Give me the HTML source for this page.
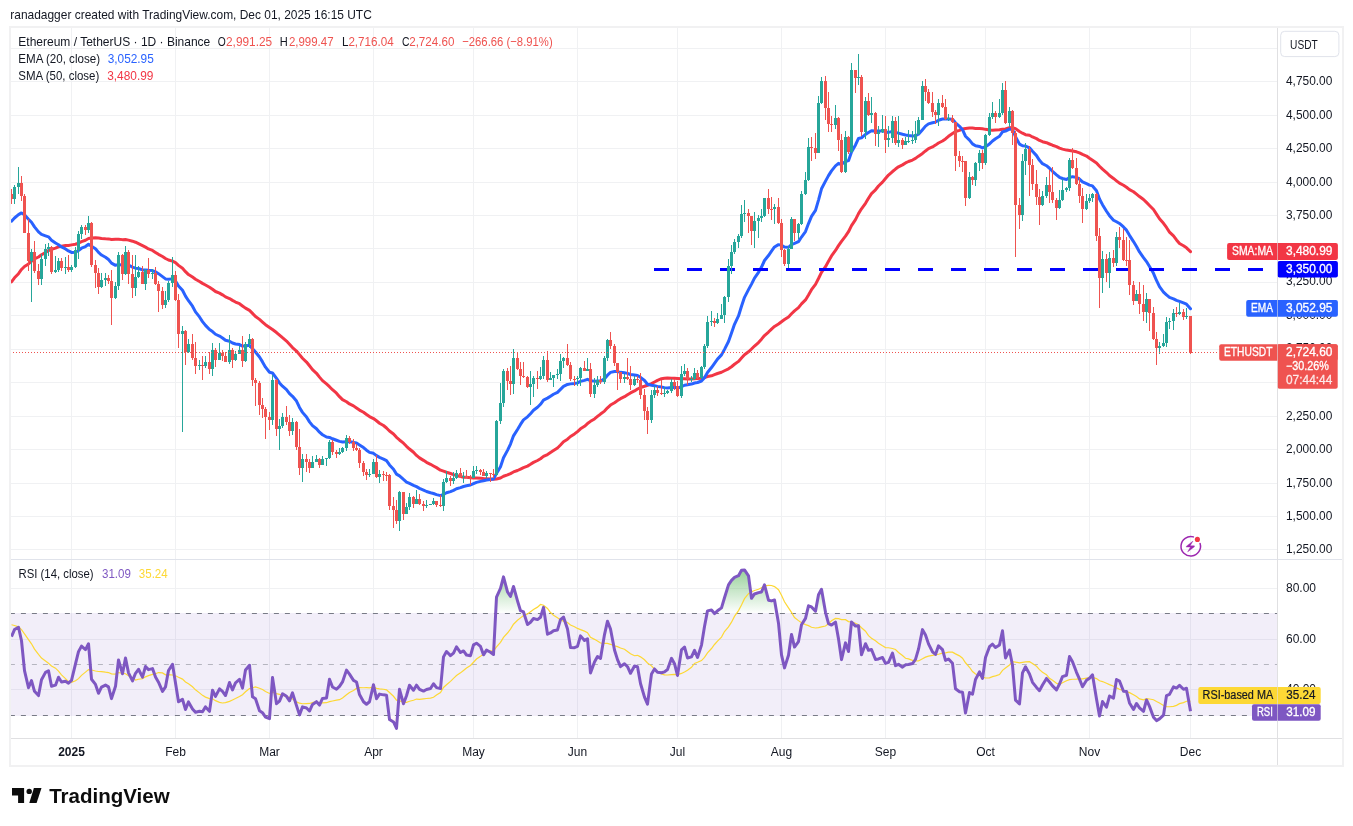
<!DOCTYPE html>
<html><head><meta charset="utf-8"><title>ETHUSDT chart</title>
<style>
html,body{margin:0;padding:0;background:#fff;}
body{width:1353px;height:826px;overflow:hidden;}
svg{display:block;font-family:"Liberation Sans", Arial, sans-serif;will-change:transform;}
</style></head><body>
<svg width="1353" height="826" viewBox="0 0 1353 826">
<rect x="0" y="0" width="1353" height="826" fill="#ffffff"/>

<text x="10.3" y="18.6" font-size="13" fill="#131722" textLength="361.5" lengthAdjust="spacingAndGlyphs">ranadagger created with TradingView.com, Dec 01, 2025 16:15 UTC</text>
<path d="M71.5 27V738 M175.5 27V738 M269.5 27V738 M373.5 27V738 M473.5 27V738 M577.5 27V738 M677.5 27V738 M781.5 27V738 M885.5 27V738 M985.5 27V738 M1089.5 27V738 M1190.5 27V738 M10 549.5H1277 M10 516.5H1277 M10 483.5H1277 M10 449.5H1277 M10 416.5H1277 M10 382.5H1277 M10 349.5H1277 M10 315.5H1277 M10 282.5H1277 M10 248.5H1277 M10 215.5H1277 M10 182.5H1277 M10 148.5H1277 M10 115.5H1277 M10 81.5H1277 M10 48.5H1277 M10 588.5H1277 M10 639.5H1277 M10 689.5H1277" stroke="#f0f1f3" stroke-width="1" fill="none"/>
<rect x="10" y="613" width="1267" height="103" fill="#7e57c2" fill-opacity="0.1"/>
<g clip-path="url(#mainclip)">
<defs><clipPath id="mainclip"><rect x="10" y="27" width="1267" height="532"/></clipPath><clipPath id="rsiclip"><rect x="10" y="560" width="1267" height="178"/></clipPath></defs>
<polyline points="11.5,281.86 14.5,277.83 18.5,273.68 21.5,269.47 24.5,266.47 28.5,263.90 31.5,261.23 34.5,258.93 38.5,256.98 41.5,254.81 45.5,252.58 48.5,250.55 51.5,249.31 55.5,248.06 58.5,246.88 61.5,246.19 65.5,245.56 68.5,245.46 71.5,244.86 75.5,244.24 78.5,243.08 81.5,241.67 85.5,240.23 88.5,238.52 91.5,237.95 95.5,237.67 98.5,237.94 101.5,238.53 105.5,238.78 108.5,238.89 111.5,239.51 115.5,239.28 118.5,239.16 122.5,239.63 125.5,239.56 128.5,240.13 132.5,241.18 135.5,242.21 138.5,243.65 142.5,245.60 145.5,247.12 148.5,248.95 152.5,250.43 155.5,252.39 158.5,254.37 162.5,256.53 165.5,258.49 168.5,260.01 172.5,261.15 175.5,262.67 178.5,265.37 182.5,268.25 185.5,271.63 188.5,274.58 192.5,277.10 195.5,279.20 199.5,281.46 202.5,283.36 205.5,285.01 209.5,287.22 212.5,289.25 215.5,291.51 219.5,293.13 222.5,294.85 225.5,296.87 229.5,298.52 232.5,300.37 235.5,302.05 239.5,303.71 242.5,305.93 245.5,308.13 249.5,310.38 252.5,313.37 255.5,316.58 259.5,319.38 262.5,322.10 265.5,324.71 269.5,327.51 272.5,329.55 276.5,332.53 279.5,335.09 282.5,337.72 286.5,341.06 289.5,344.19 292.5,347.59 296.5,351.04 299.5,354.64 302.5,358.28 306.5,362.07 309.5,365.75 312.5,369.59 316.5,373.29 319.5,377.13 322.5,380.62 326.5,383.96 329.5,386.70 332.5,389.72 336.5,393.16 339.5,396.69 342.5,399.65 346.5,401.73 349.5,403.95 353.5,405.87 356.5,407.99 359.5,410.09 363.5,412.21 366.5,414.42 369.5,416.57 373.5,418.59 376.5,420.75 379.5,423.23 383.5,425.53 386.5,427.98 389.5,430.97 393.5,433.93 396.5,437.34 399.5,439.99 403.5,443.19 406.5,446.31 409.5,449.04 413.5,452.23 416.5,455.42 419.5,457.90 423.5,460.36 426.5,462.36 430.5,464.28 433.5,465.96 436.5,467.64 440.5,470.15 443.5,471.21 446.5,472.24 450.5,473.50 453.5,474.63 456.5,475.48 460.5,476.57 463.5,477.16 466.5,477.36 470.5,477.75 473.5,477.94 476.5,477.99 480.5,478.19 483.5,478.53 486.5,478.69 490.5,479.00 493.5,479.33 496.5,478.92 500.5,477.95 503.5,476.28 507.5,474.85 510.5,473.56 513.5,471.96 517.5,470.49 520.5,469.06 523.5,467.61 527.5,466.09 530.5,464.32 533.5,462.38 537.5,460.49 540.5,458.76 543.5,456.41 547.5,454.52 550.5,452.58 553.5,450.58 557.5,447.95 560.5,444.99 563.5,441.73 567.5,439.19 570.5,436.49 574.5,433.94 577.5,431.56 580.5,428.84 584.5,426.27 587.5,423.57 590.5,421.33 594.5,418.92 597.5,416.44 600.5,414.05 604.5,411.11 607.5,407.80 610.5,405.07 614.5,402.79 617.5,400.62 620.5,398.64 624.5,396.70 627.5,394.75 630.5,392.94 634.5,390.97 637.5,389.00 640.5,387.48 644.5,386.29 647.5,385.25 651.5,383.63 654.5,381.97 657.5,380.35 661.5,378.73 664.5,378.16 667.5,377.92 671.5,378.15 674.5,378.26 677.5,378.50 681.5,378.81 684.5,378.85 687.5,378.91 691.5,378.93 694.5,378.64 697.5,378.53 701.5,378.30 704.5,377.65 707.5,376.59 711.5,375.80 714.5,374.67 717.5,373.49 721.5,372.27 724.5,370.73 728.5,368.83 731.5,366.72 734.5,364.26 738.5,361.40 741.5,358.11 744.5,354.81 748.5,351.78 751.5,349.00 754.5,346.04 758.5,342.52 761.5,339.14 764.5,335.51 768.5,332.04 771.5,329.07 774.5,326.41 778.5,323.95 781.5,321.69 784.5,319.53 788.5,316.93 791.5,313.78 794.5,310.85 798.5,307.63 801.5,303.92 805.5,299.91 808.5,294.95 811.5,289.71 815.5,284.36 818.5,278.53 821.5,272.36 825.5,266.67 828.5,261.27 831.5,255.91 835.5,250.45 838.5,245.61 841.5,241.33 845.5,236.15 848.5,231.71 851.5,225.70 855.5,219.66 858.5,213.63 861.5,208.81 865.5,203.28 868.5,198.24 871.5,193.58 875.5,189.80 878.5,186.03 882.5,182.15 885.5,178.57 888.5,175.05 892.5,171.53 895.5,169.05 898.5,166.81 902.5,164.86 905.5,162.97 908.5,161.51 912.5,160.04 915.5,158.40 918.5,156.17 922.5,153.47 925.5,150.96 928.5,148.68 932.5,146.96 935.5,145.10 938.5,142.98 942.5,140.98 945.5,138.91 948.5,136.26 952.5,133.42 955.5,131.55 959.5,130.39 962.5,128.96 965.5,128.44 969.5,128.10 972.5,128.10 975.5,128.41 979.5,128.51 982.5,128.71 985.5,129.35 989.5,130.07 992.5,130.16 995.5,130.03 999.5,129.79 1002.5,129.22 1005.5,128.89 1009.5,127.67 1012.5,127.57 1015.5,128.64 1019.5,131.54 1022.5,133.21 1025.5,134.65 1029.5,135.31 1032.5,136.97 1036.5,138.61 1039.5,140.45 1042.5,141.69 1046.5,142.74 1049.5,144.00 1052.5,145.21 1056.5,146.61 1059.5,148.19 1062.5,149.14 1066.5,150.10 1069.5,150.40 1072.5,150.93 1076.5,151.80 1079.5,152.91 1082.5,154.41 1086.5,156.03 1089.5,158.26 1092.5,160.29 1096.5,162.95 1099.5,166.26 1102.5,169.13 1106.5,172.54 1109.5,175.56 1113.5,178.43 1116.5,180.81 1119.5,183.16 1123.5,185.23 1126.5,187.23 1129.5,189.70 1133.5,191.74 1136.5,194.08 1139.5,196.56 1143.5,199.54 1146.5,202.45 1149.5,205.45 1153.5,209.53 1156.5,214.14 1159.5,218.81 1163.5,223.32 1166.5,227.49 1169.5,232.11 1173.5,235.90 1176.5,239.97 1179.5,243.56 1183.5,245.80 1186.5,247.82 1190.5,251.64" fill="none" stroke="#f23645" stroke-width="3" stroke-linejoin="round" stroke-linecap="round"/>
<polyline points="11.5,221.21 14.5,217.98 18.5,214.67 21.5,212.92 24.5,214.80 28.5,219.18 31.5,222.27 34.5,226.89 38.5,231.85 41.5,234.43 45.5,235.82 48.5,236.86 51.5,240.18 55.5,243.06 58.5,244.75 61.5,246.96 65.5,248.89 68.5,250.88 71.5,252.43 75.5,252.16 78.5,250.47 81.5,248.24 85.5,246.55 88.5,244.31 91.5,246.26 95.5,248.78 98.5,252.40 101.5,255.05 105.5,257.26 108.5,259.47 111.5,263.13 115.5,265.31 118.5,264.34 122.5,265.28 125.5,264.04 128.5,265.01 132.5,267.16 135.5,268.14 138.5,268.49 142.5,269.94 145.5,269.90 148.5,270.29 152.5,270.53 155.5,271.81 158.5,273.67 162.5,276.64 165.5,278.90 168.5,279.25 172.5,278.88 175.5,280.93 178.5,285.98 182.5,290.29 185.5,296.18 188.5,300.73 192.5,306.23 195.5,311.90 199.5,316.94 202.5,321.59 205.5,325.39 209.5,329.57 212.5,331.56 215.5,334.25 219.5,336.02 222.5,337.94 225.5,340.22 229.5,341.19 232.5,342.97 235.5,343.98 239.5,344.59 242.5,346.12 245.5,345.93 249.5,345.31 252.5,348.64 255.5,351.96 259.5,356.98 262.5,361.90 265.5,367.18 269.5,372.25 272.5,373.02 276.5,378.37 279.5,382.92 282.5,386.21 286.5,389.63 289.5,393.55 292.5,396.28 296.5,401.07 299.5,407.42 302.5,412.35 306.5,417.03 309.5,421.87 312.5,425.64 316.5,428.80 319.5,432.22 322.5,434.75 326.5,437.00 329.5,437.43 332.5,438.78 336.5,440.27 339.5,441.40 342.5,442.06 346.5,441.68 349.5,441.71 353.5,442.34 356.5,443.06 359.5,444.99 363.5,447.55 366.5,450.18 369.5,452.40 373.5,453.33 376.5,455.63 379.5,457.40 383.5,459.09 386.5,460.64 389.5,464.94 393.5,469.20 396.5,474.11 399.5,475.85 403.5,479.45 406.5,482.03 409.5,483.45 413.5,485.36 416.5,486.67 419.5,488.34 423.5,490.05 426.5,491.49 430.5,492.72 433.5,493.52 436.5,494.59 440.5,495.64 443.5,494.38 446.5,492.77 450.5,491.61 453.5,490.36 456.5,488.74 460.5,487.61 463.5,486.48 466.5,485.68 470.5,485.00 473.5,483.69 476.5,482.39 480.5,481.36 483.5,480.82 486.5,480.07 490.5,479.49 493.5,479.05 496.5,473.53 500.5,466.83 503.5,457.68 507.5,450.35 510.5,444.02 513.5,435.83 517.5,429.44 520.5,424.40 523.5,419.93 527.5,416.81 530.5,413.67 533.5,410.28 537.5,407.28 540.5,404.26 543.5,400.08 547.5,398.14 550.5,396.23 553.5,394.24 557.5,392.35 560.5,389.39 563.5,386.40 567.5,384.41 570.5,383.87 574.5,383.40 577.5,382.86 580.5,381.41 584.5,380.37 587.5,379.30 590.5,380.72 594.5,381.13 597.5,381.05 600.5,381.10 604.5,378.90 607.5,375.19 610.5,372.40 614.5,371.53 617.5,371.61 620.5,372.34 624.5,372.74 627.5,373.36 630.5,374.51 634.5,374.97 637.5,375.45 640.5,377.34 644.5,380.51 647.5,384.24 651.5,385.22 654.5,385.65 657.5,386.37 661.5,387.07 664.5,387.62 667.5,387.96 671.5,387.40 674.5,387.29 677.5,388.11 681.5,386.74 684.5,385.22 687.5,384.67 691.5,384.08 694.5,383.00 697.5,382.52 701.5,381.03 704.5,377.71 707.5,372.43 711.5,367.53 714.5,363.32 717.5,359.10 721.5,354.86 724.5,349.37 728.5,341.46 731.5,332.98 734.5,324.34 738.5,315.94 741.5,306.24 744.5,297.34 748.5,289.63 751.5,284.09 754.5,278.09 758.5,272.37 761.5,267.04 764.5,260.50 768.5,255.55 771.5,251.12 774.5,246.95 778.5,244.64 781.5,245.18 784.5,247.01 788.5,247.24 791.5,244.53 794.5,243.43 798.5,241.61 801.5,237.04 805.5,231.59 808.5,223.55 811.5,216.39 815.5,210.32 818.5,200.10 821.5,188.78 825.5,181.13 828.5,175.64 831.5,170.86 835.5,165.83 838.5,163.36 841.5,164.19 845.5,161.61 848.5,160.67 851.5,152.06 855.5,144.97 858.5,138.49 861.5,137.84 865.5,134.35 868.5,132.51 871.5,130.65 875.5,130.93 878.5,131.06 882.5,130.90 885.5,131.78 888.5,132.41 892.5,131.34 895.5,132.41 898.5,133.16 902.5,134.29 905.5,134.97 908.5,135.53 912.5,135.92 915.5,135.75 918.5,134.24 922.5,129.68 925.5,126.13 928.5,123.89 932.5,122.80 935.5,122.09 938.5,120.27 942.5,119.03 945.5,119.06 948.5,118.93 952.5,119.27 955.5,122.77 959.5,126.37 962.5,129.71 965.5,136.25 969.5,140.10 972.5,143.88 975.5,145.68 979.5,146.41 982.5,147.97 985.5,146.70 989.5,143.91 992.5,140.98 995.5,138.70 999.5,136.26 1002.5,131.85 1005.5,131.03 1009.5,129.09 1012.5,129.42 1015.5,136.62 1019.5,144.11 1022.5,145.75 1025.5,146.02 1029.5,147.80 1032.5,151.27 1036.5,155.62 1039.5,160.32 1042.5,163.70 1046.5,165.72 1049.5,168.26 1052.5,171.31 1056.5,174.85 1059.5,177.28 1062.5,178.49 1066.5,179.42 1069.5,177.58 1072.5,176.65 1076.5,177.37 1079.5,179.10 1082.5,181.94 1086.5,183.73 1089.5,185.09 1092.5,185.93 1096.5,190.67 1099.5,198.96 1102.5,204.67 1106.5,211.22 1109.5,215.70 1113.5,220.21 1116.5,221.79 1119.5,223.49 1123.5,226.96 1126.5,230.13 1129.5,235.34 1133.5,241.58 1136.5,246.53 1139.5,251.96 1143.5,257.65 1146.5,261.58 1149.5,266.44 1153.5,273.35 1156.5,280.46 1159.5,286.72 1163.5,292.04 1166.5,294.90 1169.5,297.36 1173.5,298.81 1176.5,300.30 1179.5,301.39 1183.5,302.89 1186.5,304.16 1190.5,308.77" fill="none" stroke="#2962ff" stroke-width="3" stroke-linejoin="round" stroke-linecap="round"/>
<path d="M654 269.5H1277" stroke="#0000ff" stroke-width="3" stroke-dasharray="15 18"/>
<path d="M14.5 185V204 M18.5 167V194 M31.5 249V302 M41.5 254V285 M45.5 244V266 M48.5 243V256 M55.5 256V273 M58.5 258V272 M65.5 257V274 M71.5 265V272 M75.5 247V268 M78.5 231V259 M81.5 225V239 M88.5 216V233 M101.5 273V288 M105.5 273V286 M115.5 282V299 M118.5 252V290 M125.5 246V275 M135.5 255V296 M138.5 266V278 M145.5 269V290 M152.5 269V279 M165.5 291V308 M168.5 281V302 M172.5 257V287 M182.5 326V432 M188.5 339V353 M199.5 360V370 M205.5 356V368 M212.5 343V376 M219.5 343V360 M229.5 335V364 M235.5 351V361 M239.5 346V354 M245.5 342V362 M249.5 334V348 M272.5 375V425 M279.5 419V450 M282.5 413V428 M292.5 418V435 M302.5 454V482 M312.5 456V468 M316.5 455V462 M322.5 456V465 M326.5 458V466 M329.5 440V459 M339.5 448V455 M342.5 447V453 M346.5 435V451 M369.5 469V477 M373.5 459V474 M379.5 470V483 M399.5 491V531 M406.5 503V514 M409.5 493V510 M416.5 490V504 M426.5 500V508 M430.5 504V505 M433.5 498V505 M443.5 479V511 M446.5 471V483 M453.5 472V484 M456.5 470V479 M463.5 472V483 M473.5 466V478 M476.5 466V474 M486.5 471V478 M496.5 420V476 M500.5 383V424 M503.5 369V407 M513.5 349V394 M530.5 371V405 M533.5 376V397 M540.5 367V380 M543.5 356V379 M550.5 372V380 M553.5 375V387 M557.5 369V379 M560.5 354V381 M563.5 357V368 M577.5 376V386 M580.5 367V386 M587.5 358V371 M594.5 378V398 M597.5 376V387 M604.5 356V384 M607.5 339V361 M624.5 374V383 M634.5 376V386 M651.5 390V423 M654.5 386V398 M664.5 387V397 M667.5 390V394 M671.5 379V393 M681.5 366V398 M684.5 364V376 M691.5 376V382 M694.5 368V380 M701.5 366V379 M704.5 344V369 M707.5 316V348 M711.5 311V326 M717.5 313V324 M721.5 304V319 M724.5 296V323 M728.5 259V302 M731.5 245V274 M734.5 239V254 M738.5 234V248 M741.5 205V238 M744.5 200V222 M754.5 212V248 M758.5 215V238 M761.5 209V222 M764.5 198V217 M774.5 204V224 M788.5 246V268 M791.5 217V249 M798.5 223V239 M801.5 191V225 M805.5 172V195 M808.5 138V181 M818.5 96V153 M821.5 77V104 M835.5 105V129 M845.5 131V173 M851.5 63V153 M858.5 54V85 M865.5 97V139 M871.5 97V123 M878.5 126V147 M882.5 115V133 M888.5 126V147 M892.5 116V143 M898.5 116V147 M905.5 137V145 M908.5 130V143 M912.5 131V144 M915.5 121V143 M918.5 117V135 M922.5 81V120 M938.5 99V126 M948.5 114V121 M969.5 172V199 M975.5 162V186 M979.5 150V171 M985.5 134V165 M989.5 113V136 M992.5 102V119 M999.5 99V118 M1002.5 83V115 M1009.5 107V127 M1022.5 154V221 M1025.5 143V175 M1042.5 191V206 M1046.5 177V198 M1059.5 190V209 M1062.5 179V201 M1066.5 187V192 M1069.5 158V191 M1086.5 194V210 M1089.5 194V203 M1092.5 193V202 M1102.5 251V293 M1109.5 252V288 M1116.5 232V266 M1136.5 290V301 M1146.5 293V323 M1159.5 342V354 M1163.5 334V347 M1166.5 317V347 M1169.5 318V329 M1173.5 309V330 M1179.5 303V315 M1186.5 308V319" stroke="#26a69a" stroke-width="1" fill="none"/>
<path d="M13.0 187h3V199h-3Z M17.0 183h3V187h-3Z M30.0 252h3V261h-3Z M40.0 259h3V279h-3Z M44.0 249h3V259h-3Z M47.0 247h3V249h-3Z M54.0 270h3V272h-3Z M57.0 261h3V270h-3Z M64.0 267h3V268h-3Z M70.0 267h3V270h-3Z M74.0 250h3V267h-3Z M77.0 234h3V250h-3Z M80.0 227h3V234h-3Z M87.0 223h3V230h-3Z M100.0 280h3V287h-3Z M104.0 278h3V280h-3Z M114.0 286h3V298h-3Z M117.0 255h3V286h-3Z M124.0 252h3V274h-3Z M134.0 277h3V288h-3Z M137.0 272h3V277h-3Z M144.0 270h3V284h-3Z M151.0 273h3V274h-3Z M164.0 300h3V305h-3Z M167.0 283h3V300h-3Z M171.0 275h3V283h-3Z M181.0 331h3V334h-3Z M187.0 344h3V352h-3Z M198.0 365h3V366h-3Z M204.0 362h3V366h-3Z M211.0 350h3V369h-3Z M218.0 353h3V360h-3Z M228.0 350h3V362h-3Z M234.0 354h3V360h-3Z M238.0 350h3V354h-3Z M244.0 344h3V361h-3Z M248.0 339h3V344h-3Z M271.0 380h3V420h-3Z M278.0 426h3V429h-3Z M281.0 417h3V426h-3Z M291.0 422h3V431h-3Z M301.0 459h3V468h-3Z M311.0 462h3V468h-3Z M315.0 459h3V462h-3Z M321.0 459h3V465h-3Z M325.0 458h3V459h-3Z M328.0 442h3V458h-3Z M338.0 452h3V454h-3Z M341.0 448h3V452h-3Z M345.0 438h3V448h-3Z M368.0 474h3V475h-3Z M372.0 462h3V474h-3Z M378.0 474h3V477h-3Z M398.0 492h3V521h-3Z M405.0 507h3V514h-3Z M408.0 497h3V507h-3Z M415.0 499h3V504h-3Z M425.0 505h3V506h-3Z M429.0 504h3V505h-3Z M432.0 501h3V504h-3Z M442.0 482h3V506h-3Z M445.0 478h3V482h-3Z M452.0 478h3V481h-3Z M455.0 473h3V478h-3Z M462.0 476h3V477h-3Z M472.0 471h3V478h-3Z M475.0 470h3V471h-3Z M485.0 473h3V476h-3Z M495.0 421h3V475h-3Z M499.0 403h3V421h-3Z M502.0 371h3V403h-3Z M512.0 358h3V384h-3Z M529.0 384h3V387h-3Z M532.0 378h3V384h-3Z M539.0 376h3V379h-3Z M542.0 360h3V376h-3Z M549.0 378h3V380h-3Z M552.0 375h3V378h-3Z M556.0 374h3V375h-3Z M559.0 361h3V374h-3Z M562.0 358h3V361h-3Z M576.0 378h3V379h-3Z M579.0 368h3V378h-3Z M586.0 369h3V371h-3Z M593.0 385h3V394h-3Z M596.0 380h3V385h-3Z M603.0 358h3V382h-3Z M606.0 340h3V358h-3Z M623.0 377h3V379h-3Z M633.0 379h3V385h-3Z M650.0 395h3V420h-3Z M653.0 390h3V395h-3Z M663.0 393h3V394h-3Z M666.0 391h3V393h-3Z M670.0 382h3V391h-3Z M680.0 374h3V396h-3Z M683.0 371h3V374h-3Z M690.0 379h3V380h-3Z M693.0 373h3V379h-3Z M700.0 367h3V378h-3Z M703.0 346h3V367h-3Z M706.0 322h3V346h-3Z M710.0 321h3V322h-3Z M716.0 319h3V323h-3Z M720.0 315h3V319h-3Z M723.0 297h3V315h-3Z M727.0 266h3V297h-3Z M730.0 252h3V266h-3Z M733.0 242h3V252h-3Z M737.0 236h3V242h-3Z M740.0 214h3V236h-3Z M743.0 213h3V214h-3Z M753.0 221h3V231h-3Z M757.0 218h3V221h-3Z M760.0 216h3V218h-3Z M763.0 198h3V216h-3Z M773.0 207h3V209h-3Z M787.0 249h3V264h-3Z M790.0 219h3V249h-3Z M797.0 224h3V233h-3Z M800.0 194h3V224h-3Z M804.0 180h3V194h-3Z M807.0 147h3V180h-3Z M817.0 103h3V153h-3Z M820.0 81h3V103h-3Z M834.0 118h3V125h-3Z M844.0 137h3V172h-3Z M850.0 70h3V152h-3Z M857.0 77h3V78h-3Z M864.0 101h3V132h-3Z M870.0 113h3V115h-3Z M877.0 132h3V134h-3Z M881.0 129h3V132h-3Z M887.0 138h3V140h-3Z M891.0 121h3V138h-3Z M897.0 140h3V143h-3Z M904.0 141h3V145h-3Z M907.0 141h3V142h-3Z M911.0 140h3V141h-3Z M914.0 134h3V140h-3Z M917.0 120h3V134h-3Z M921.0 86h3V120h-3Z M937.0 103h3V115h-3Z M947.0 118h3V119h-3Z M968.0 177h3V198h-3Z M974.0 163h3V180h-3Z M978.0 153h3V163h-3Z M984.0 135h3V163h-3Z M988.0 117h3V135h-3Z M991.0 113h3V117h-3Z M998.0 113h3V117h-3Z M1001.0 90h3V113h-3Z M1008.0 111h3V123h-3Z M1021.0 161h3V215h-3Z M1024.0 149h3V161h-3Z M1041.0 196h3V205h-3Z M1045.0 185h3V196h-3Z M1058.0 200h3V208h-3Z M1061.0 190h3V200h-3Z M1065.0 188h3V190h-3Z M1068.0 160h3V188h-3Z M1085.0 201h3V209h-3Z M1088.0 198h3V201h-3Z M1091.0 194h3V198h-3Z M1101.0 259h3V278h-3Z M1108.0 258h3V273h-3Z M1115.0 237h3V263h-3Z M1135.0 294h3V301h-3Z M1145.0 299h3V312h-3Z M1158.0 346h3V348h-3Z M1162.0 343h3V346h-3Z M1165.0 322h3V343h-3Z M1168.0 321h3V322h-3Z M1172.0 313h3V321h-3Z M1178.0 312h3V314h-3Z M1185.0 316h3V317h-3Z" fill="#26a69a"/>
<path d="M11.5 189V204 M21.5 176V201 M24.5 194V233 M28.5 219V271 M34.5 241V273 M38.5 264V285 M51.5 246V274 M61.5 258V271 M68.5 255V272 M85.5 225V235 M91.5 222V267 M95.5 260V288 M98.5 268V294 M108.5 275V284 M111.5 270V325 M122.5 254V280 M128.5 250V284 M132.5 255V298 M142.5 266V284 M148.5 258V278 M155.5 267V285 M158.5 281V312 M162.5 287V309 M175.5 271V301 M178.5 294V348 M185.5 330V365 M192.5 334V360 M195.5 342V374 M202.5 356V380 M209.5 352V374 M215.5 348V367 M222.5 350V361 M225.5 352V362 M232.5 348V368 M242.5 336V367 M252.5 338V386 M255.5 378V406 M259.5 381V415 M262.5 398V418 M265.5 407V439 M269.5 412V430 M276.5 379V436 M286.5 406V425 M289.5 415V436 M296.5 421V450 M299.5 429V475 M306.5 454V472 M309.5 459V473 M319.5 458V468 M332.5 440V455 M336.5 450V458 M349.5 436V444 M353.5 439V451 M356.5 444V451 M359.5 448V468 M363.5 461V476 M366.5 469V480 M376.5 455V478 M383.5 471V481 M386.5 472V481 M389.5 474V510 M393.5 497V528 M396.5 500V524 M403.5 492V520 M413.5 496V508 M419.5 494V505 M423.5 501V511 M436.5 501V507 M440.5 495V507 M450.5 476V486 M460.5 468V478 M466.5 470V478 M470.5 475V485 M480.5 469V475 M483.5 469V476 M490.5 473V482 M493.5 469V478 M507.5 368V390 M510.5 366V395 M517.5 352V370 M520.5 362V385 M523.5 362V378 M527.5 376V388 M537.5 371V389 M547.5 351V382 M567.5 344V366 M570.5 362V381 M574.5 376V386 M584.5 361V371 M590.5 363V397 M600.5 376V384 M610.5 332V349 M614.5 344V366 M617.5 363V390 M620.5 372V383 M627.5 358V380 M630.5 366V390 M637.5 376V383 M640.5 373V399 M644.5 389V420 M647.5 407V434 M657.5 386V396 M661.5 380V395 M674.5 379V390 M677.5 381V397 M687.5 368V385 M697.5 370V379 M714.5 318V327 M748.5 209V233 M751.5 216V245 M768.5 189V214 M771.5 197V220 M778.5 198V224 M781.5 219V257 M784.5 249V266 M794.5 219V241 M811.5 137V161 M815.5 133V159 M825.5 76V120 M828.5 92V132 M831.5 116V132 M838.5 117V151 M841.5 134V173 M848.5 136V154 M855.5 70V93 M861.5 75V136 M868.5 93V116 M875.5 112V146 M885.5 116V153 M895.5 117V145 M902.5 138V149 M925.5 79V101 M928.5 89V104 M932.5 92V117 M935.5 110V124 M942.5 95V108 M945.5 99V120 M952.5 115V123 M955.5 122V171 M959.5 151V167 M962.5 156V172 M965.5 161V206 M972.5 176V185 M982.5 150V169 M995.5 111V123 M1005.5 81V124 M1012.5 110V145 M1015.5 131V257 M1019.5 198V229 M1029.5 146V196 M1032.5 159V190 M1036.5 170V205 M1039.5 189V225 M1049.5 170V203 M1052.5 167V203 M1056.5 198V220 M1072.5 148V169 M1076.5 158V185 M1079.5 177V203 M1082.5 188V223 M1096.5 193V241 M1099.5 228V308 M1106.5 254V282 M1113.5 250V267 M1119.5 227V248 M1123.5 229V261 M1126.5 237V266 M1129.5 240V295 M1133.5 281V305 M1139.5 282V314 M1143.5 285V321 M1149.5 299V331 M1153.5 307V340 M1156.5 332V365 M1176.5 307V317 M1183.5 309V320 M1190.5 316V354" stroke="#ef5350" stroke-width="1" fill="none"/>
<path d="M10.0 194h3V199h-3Z M20.0 183h3V196h-3Z M23.0 196h3V233h-3Z M27.0 233h3V261h-3Z M33.0 252h3V271h-3Z M37.0 271h3V279h-3Z M50.0 247h3V272h-3Z M60.0 261h3V268h-3Z M67.0 267h3V270h-3Z M84.0 227h3V230h-3Z M90.0 223h3V265h-3Z M94.0 265h3V273h-3Z M97.0 273h3V287h-3Z M107.0 278h3V281h-3Z M110.0 281h3V298h-3Z M121.0 255h3V274h-3Z M127.0 252h3V274h-3Z M131.0 274h3V288h-3Z M141.0 272h3V284h-3Z M147.0 270h3V274h-3Z M154.0 273h3V284h-3Z M157.0 284h3V291h-3Z M161.0 291h3V305h-3Z M174.0 275h3V300h-3Z M177.0 300h3V334h-3Z M184.0 331h3V352h-3Z M191.0 344h3V358h-3Z M194.0 358h3V366h-3Z M201.0 365h3V366h-3Z M208.0 362h3V369h-3Z M214.0 350h3V360h-3Z M221.0 353h3V356h-3Z M224.0 356h3V362h-3Z M231.0 350h3V360h-3Z M241.0 350h3V361h-3Z M251.0 339h3V380h-3Z M254.0 380h3V383h-3Z M258.0 383h3V405h-3Z M261.0 405h3V409h-3Z M264.0 409h3V417h-3Z M268.0 417h3V420h-3Z M275.0 380h3V429h-3Z M285.0 417h3V422h-3Z M288.0 422h3V431h-3Z M295.0 422h3V447h-3Z M298.0 447h3V468h-3Z M305.0 459h3V462h-3Z M308.0 462h3V468h-3Z M318.0 459h3V465h-3Z M331.0 442h3V452h-3Z M335.0 452h3V454h-3Z M348.0 438h3V442h-3Z M352.0 442h3V448h-3Z M355.0 448h3V450h-3Z M358.0 450h3V463h-3Z M362.0 463h3V472h-3Z M365.0 472h3V475h-3Z M375.0 462h3V477h-3Z M382.0 474h3V475h-3Z M385.0 475h3V476h-3Z M388.0 475h3V506h-3Z M392.0 506h3V510h-3Z M395.0 510h3V521h-3Z M402.0 492h3V514h-3Z M412.0 497h3V504h-3Z M418.0 499h3V504h-3Z M422.0 504h3V506h-3Z M435.0 501h3V505h-3Z M439.0 505h3V506h-3Z M449.0 478h3V481h-3Z M459.0 473h3V477h-3Z M465.0 476h3V478h-3Z M469.0 478h3V479h-3Z M479.0 470h3V472h-3Z M482.0 472h3V476h-3Z M489.0 473h3V474h-3Z M492.0 474h3V475h-3Z M506.0 371h3V381h-3Z M509.0 381h3V384h-3Z M516.0 358h3V369h-3Z M519.0 369h3V376h-3Z M522.0 376h3V377h-3Z M526.0 377h3V387h-3Z M536.0 378h3V379h-3Z M546.0 360h3V380h-3Z M566.0 358h3V365h-3Z M569.0 365h3V379h-3Z M573.0 379h3V380h-3Z M583.0 368h3V371h-3Z M589.0 369h3V394h-3Z M599.0 380h3V382h-3Z M609.0 340h3V346h-3Z M613.0 346h3V363h-3Z M616.0 363h3V372h-3Z M619.0 372h3V379h-3Z M626.0 377h3V379h-3Z M629.0 379h3V385h-3Z M636.0 379h3V380h-3Z M639.0 380h3V395h-3Z M643.0 395h3V411h-3Z M646.0 411h3V420h-3Z M656.0 390h3V393h-3Z M660.0 393h3V394h-3Z M673.0 382h3V386h-3Z M676.0 386h3V396h-3Z M686.0 371h3V379h-3Z M696.0 373h3V378h-3Z M713.0 321h3V323h-3Z M747.0 213h3V216h-3Z M750.0 216h3V231h-3Z M767.0 198h3V209h-3Z M770.0 209h3V210h-3Z M777.0 207h3V223h-3Z M780.0 223h3V250h-3Z M783.0 250h3V264h-3Z M793.0 219h3V233h-3Z M810.0 147h3V148h-3Z M814.0 148h3V153h-3Z M824.0 81h3V108h-3Z M827.0 108h3V124h-3Z M830.0 124h3V125h-3Z M837.0 118h3V140h-3Z M840.0 140h3V172h-3Z M847.0 137h3V152h-3Z M854.0 70h3V78h-3Z M860.0 77h3V132h-3Z M867.0 101h3V115h-3Z M874.0 113h3V134h-3Z M884.0 129h3V140h-3Z M894.0 121h3V143h-3Z M901.0 140h3V145h-3Z M924.0 86h3V92h-3Z M927.0 92h3V103h-3Z M931.0 103h3V112h-3Z M934.0 112h3V115h-3Z M941.0 103h3V107h-3Z M944.0 107h3V119h-3Z M951.0 118h3V122h-3Z M954.0 122h3V156h-3Z M958.0 156h3V161h-3Z M961.0 161h3V162h-3Z M964.0 161h3V198h-3Z M971.0 177h3V180h-3Z M981.0 153h3V163h-3Z M994.0 113h3V117h-3Z M1004.0 90h3V123h-3Z M1011.0 111h3V133h-3Z M1014.0 133h3V205h-3Z M1018.0 205h3V215h-3Z M1028.0 149h3V165h-3Z M1031.0 165h3V184h-3Z M1035.0 184h3V197h-3Z M1038.0 197h3V205h-3Z M1048.0 185h3V192h-3Z M1051.0 192h3V200h-3Z M1055.0 200h3V208h-3Z M1071.0 160h3V168h-3Z M1075.0 168h3V184h-3Z M1078.0 184h3V196h-3Z M1081.0 196h3V209h-3Z M1095.0 194h3V236h-3Z M1098.0 236h3V278h-3Z M1105.0 259h3V273h-3Z M1112.0 258h3V263h-3Z M1118.0 237h3V240h-3Z M1122.0 240h3V260h-3Z M1125.0 260h3V261h-3Z M1128.0 260h3V285h-3Z M1132.0 285h3V301h-3Z M1138.0 294h3V304h-3Z M1142.0 304h3V312h-3Z M1148.0 299h3V313h-3Z M1152.0 313h3V339h-3Z M1155.0 339h3V348h-3Z M1175.0 313h3V314h-3Z M1182.0 312h3V317h-3Z M1189.0 316h3V353h-3Z" fill="#ef5350"/>
<path d="M10 352.5H1219" stroke="#ef5350" stroke-width="1" stroke-dasharray="1 2"/>
</g>
<g clip-path="url(#rsiclip)">
<path d="M9.9 613.5H1277M9.9 715.5H1277" stroke="#787b86" stroke-width="1" stroke-dasharray="5 6"/>
<path d="M9.9 664.5H1277" stroke="#787b86" stroke-opacity="0.5" stroke-width="1" stroke-dasharray="5 6"/>
<defs><linearGradient id="obg" gradientUnits="userSpaceOnUse" x1="0" y1="537.5" x2="0" y2="613.7"><stop offset="0" stop-color="#4caf50" stop-opacity="1"/><stop offset="1" stop-color="#4caf50" stop-opacity="0"/></linearGradient><linearGradient id="osg" gradientUnits="userSpaceOnUse" x1="0" y1="715.3" x2="0" y2="791.5"><stop offset="0" stop-color="#ff5252" stop-opacity="0"/><stop offset="1" stop-color="#ff5252" stop-opacity="1"/></linearGradient><clipPath id="obclip"><rect x="0" y="560" width="1277" height="53.70"/></clipPath><clipPath id="osclip"><rect x="0" y="715.30" width="1277" height="22.70"/></clipPath></defs>
<polygon points="11.50,613.70 11.5,636.70 14.5,629.58 18.5,627.23 21.5,640.77 24.5,670.59 28.5,687.72 31.5,680.68 34.5,691.31 38.5,695.55 41.5,679.68 45.5,672.39 48.5,670.79 51.5,686.20 55.5,685.16 58.5,677.21 61.5,682.01 65.5,681.20 68.5,683.16 71.5,680.42 75.5,663.87 78.5,651.66 81.5,646.12 85.5,649.59 88.5,643.75 91.5,679.24 95.5,684.46 98.5,693.32 101.5,687.10 105.5,685.13 108.5,686.84 111.5,698.62 115.5,686.32 118.5,659.90 122.5,673.83 125.5,658.06 128.5,672.84 132.5,680.86 135.5,673.30 138.5,669.28 142.5,677.09 145.5,666.42 148.5,669.63 152.5,668.62 155.5,677.02 158.5,682.21 162.5,691.37 165.5,686.88 168.5,670.47 172.5,664.34 175.5,682.92 178.5,701.84 182.5,699.38 185.5,709.52 188.5,701.89 192.5,708.90 195.5,712.24 199.5,711.30 202.5,711.76 205.5,706.90 209.5,711.36 212.5,690.19 215.5,696.42 219.5,688.90 222.5,691.39 225.5,695.51 229.5,682.49 232.5,689.90 235.5,682.81 239.5,679.26 242.5,688.10 245.5,669.95 249.5,665.22 252.5,696.82 255.5,698.74 259.5,710.67 262.5,712.69 265.5,717.10 269.5,718.70 272.5,677.49 276.5,703.71 279.5,701.10 282.5,693.84 286.5,696.32 289.5,700.87 292.5,692.88 296.5,705.63 299.5,714.91 302.5,706.88 306.5,707.99 309.5,711.02 312.5,704.49 316.5,701.66 319.5,705.09 322.5,698.47 326.5,697.91 329.5,679.20 332.5,687.05 336.5,689.22 339.5,686.44 342.5,681.94 346.5,670.14 349.5,674.11 353.5,680.38 356.5,681.96 359.5,694.54 363.5,701.73 366.5,704.26 369.5,701.76 373.5,684.69 376.5,698.69 379.5,694.13 383.5,694.86 386.5,695.18 389.5,719.46 393.5,721.91 396.5,728.38 399.5,689.31 403.5,703.81 406.5,695.75 409.5,685.23 413.5,690.23 416.5,685.20 419.5,689.31 423.5,691.11 426.5,689.51 430.5,688.50 433.5,683.77 436.5,687.66 440.5,688.59 443.5,656.88 446.5,651.52 450.5,655.63 453.5,653.14 456.5,646.87 460.5,652.53 463.5,650.94 466.5,655.01 470.5,655.65 473.5,644.87 476.5,643.19 480.5,646.41 483.5,654.82 486.5,650.13 490.5,652.27 493.5,654.50 496.5,597.21 500.5,588.34 503.5,576.85 507.5,591.89 510.5,596.42 513.5,586.47 517.5,600.81 520.5,610.72 523.5,611.97 527.5,624.46 530.5,622.30 533.5,618.48 537.5,619.59 540.5,617.24 543.5,607.33 547.5,634.20 550.5,632.93 553.5,630.75 557.5,629.94 560.5,619.55 563.5,617.05 567.5,628.92 570.5,647.46 574.5,647.72 577.5,646.46 580.5,635.87 584.5,640.39 587.5,638.80 590.5,672.90 594.5,661.96 597.5,656.52 600.5,658.40 604.5,634.58 607.5,621.18 610.5,629.09 614.5,650.06 617.5,659.60 620.5,666.58 624.5,663.71 627.5,666.70 630.5,673.27 634.5,665.99 637.5,666.81 640.5,683.49 644.5,697.09 647.5,704.09 651.5,673.91 654.5,668.93 657.5,672.28 661.5,672.70 664.5,671.85 667.5,669.53 671.5,658.29 674.5,663.69 677.5,675.47 681.5,649.85 684.5,646.99 687.5,657.96 691.5,656.88 694.5,650.31 697.5,657.45 701.5,645.09 704.5,626.53 707.5,610.86 711.5,610.08 714.5,613.58 717.5,610.79 721.5,607.88 724.5,597.79 728.5,584.86 731.5,580.38 734.5,577.44 738.5,575.70 741.5,570.25 744.5,569.97 748.5,575.78 751.5,598.32 754.5,593.97 758.5,592.66 761.5,591.98 764.5,584.78 768.5,600.18 771.5,600.88 774.5,599.97 778.5,623.16 781.5,654.96 784.5,667.89 788.5,655.22 791.5,634.40 794.5,647.09 798.5,641.56 801.5,624.74 805.5,618.42 808.5,605.78 811.5,606.98 815.5,611.13 818.5,594.69 821.5,589.23 825.5,612.29 828.5,623.69 831.5,625.06 835.5,622.08 838.5,638.87 841.5,659.64 845.5,642.89 848.5,651.50 851.5,621.97 855.5,626.09 858.5,625.86 861.5,654.86 865.5,643.72 868.5,650.25 871.5,649.47 875.5,659.49 878.5,658.95 882.5,657.51 885.5,663.39 888.5,662.41 892.5,653.13 895.5,665.66 898.5,664.27 902.5,667.17 905.5,664.83 908.5,664.41 912.5,663.54 915.5,659.44 918.5,649.20 922.5,629.64 925.5,634.97 928.5,643.87 932.5,651.91 935.5,654.42 938.5,645.80 942.5,649.64 945.5,660.36 948.5,658.99 952.5,663.31 955.5,688.81 959.5,691.72 962.5,692.29 965.5,713.03 969.5,692.53 972.5,694.25 975.5,679.49 979.5,671.86 982.5,678.41 985.5,657.46 989.5,646.72 992.5,644.19 995.5,647.49 999.5,644.90 1002.5,630.82 1005.5,657.94 1009.5,650.18 1012.5,665.31 1015.5,700.20 1019.5,703.92 1022.5,672.86 1025.5,666.78 1029.5,674.01 1032.5,682.30 1036.5,687.41 1039.5,690.65 1042.5,685.00 1046.5,678.43 1049.5,682.01 1052.5,685.94 1056.5,689.88 1059.5,684.00 1062.5,676.57 1066.5,675.23 1069.5,656.45 1072.5,661.66 1076.5,672.29 1079.5,679.11 1082.5,686.73 1086.5,680.31 1089.5,678.19 1092.5,674.82 1096.5,699.05 1099.5,716.02 1102.5,701.56 1106.5,707.21 1109.5,696.02 1113.5,698.11 1116.5,679.48 1119.5,680.99 1123.5,691.26 1126.5,691.44 1129.5,702.93 1133.5,709.53 1136.5,703.47 1139.5,707.84 1143.5,711.34 1146.5,699.95 1149.5,706.38 1153.5,717.25 1156.5,720.61 1159.5,718.84 1163.5,715.15 1166.5,695.56 1169.5,694.40 1173.5,686.85 1176.5,688.04 1179.5,685.32 1183.5,689.30 1186.5,688.29 1190.5,711.34 1190.50,613.70" fill="url(#obg)" clip-path="url(#obclip)"/>
<polygon points="11.50,715.30 11.5,636.70 14.5,629.58 18.5,627.23 21.5,640.77 24.5,670.59 28.5,687.72 31.5,680.68 34.5,691.31 38.5,695.55 41.5,679.68 45.5,672.39 48.5,670.79 51.5,686.20 55.5,685.16 58.5,677.21 61.5,682.01 65.5,681.20 68.5,683.16 71.5,680.42 75.5,663.87 78.5,651.66 81.5,646.12 85.5,649.59 88.5,643.75 91.5,679.24 95.5,684.46 98.5,693.32 101.5,687.10 105.5,685.13 108.5,686.84 111.5,698.62 115.5,686.32 118.5,659.90 122.5,673.83 125.5,658.06 128.5,672.84 132.5,680.86 135.5,673.30 138.5,669.28 142.5,677.09 145.5,666.42 148.5,669.63 152.5,668.62 155.5,677.02 158.5,682.21 162.5,691.37 165.5,686.88 168.5,670.47 172.5,664.34 175.5,682.92 178.5,701.84 182.5,699.38 185.5,709.52 188.5,701.89 192.5,708.90 195.5,712.24 199.5,711.30 202.5,711.76 205.5,706.90 209.5,711.36 212.5,690.19 215.5,696.42 219.5,688.90 222.5,691.39 225.5,695.51 229.5,682.49 232.5,689.90 235.5,682.81 239.5,679.26 242.5,688.10 245.5,669.95 249.5,665.22 252.5,696.82 255.5,698.74 259.5,710.67 262.5,712.69 265.5,717.10 269.5,718.70 272.5,677.49 276.5,703.71 279.5,701.10 282.5,693.84 286.5,696.32 289.5,700.87 292.5,692.88 296.5,705.63 299.5,714.91 302.5,706.88 306.5,707.99 309.5,711.02 312.5,704.49 316.5,701.66 319.5,705.09 322.5,698.47 326.5,697.91 329.5,679.20 332.5,687.05 336.5,689.22 339.5,686.44 342.5,681.94 346.5,670.14 349.5,674.11 353.5,680.38 356.5,681.96 359.5,694.54 363.5,701.73 366.5,704.26 369.5,701.76 373.5,684.69 376.5,698.69 379.5,694.13 383.5,694.86 386.5,695.18 389.5,719.46 393.5,721.91 396.5,728.38 399.5,689.31 403.5,703.81 406.5,695.75 409.5,685.23 413.5,690.23 416.5,685.20 419.5,689.31 423.5,691.11 426.5,689.51 430.5,688.50 433.5,683.77 436.5,687.66 440.5,688.59 443.5,656.88 446.5,651.52 450.5,655.63 453.5,653.14 456.5,646.87 460.5,652.53 463.5,650.94 466.5,655.01 470.5,655.65 473.5,644.87 476.5,643.19 480.5,646.41 483.5,654.82 486.5,650.13 490.5,652.27 493.5,654.50 496.5,597.21 500.5,588.34 503.5,576.85 507.5,591.89 510.5,596.42 513.5,586.47 517.5,600.81 520.5,610.72 523.5,611.97 527.5,624.46 530.5,622.30 533.5,618.48 537.5,619.59 540.5,617.24 543.5,607.33 547.5,634.20 550.5,632.93 553.5,630.75 557.5,629.94 560.5,619.55 563.5,617.05 567.5,628.92 570.5,647.46 574.5,647.72 577.5,646.46 580.5,635.87 584.5,640.39 587.5,638.80 590.5,672.90 594.5,661.96 597.5,656.52 600.5,658.40 604.5,634.58 607.5,621.18 610.5,629.09 614.5,650.06 617.5,659.60 620.5,666.58 624.5,663.71 627.5,666.70 630.5,673.27 634.5,665.99 637.5,666.81 640.5,683.49 644.5,697.09 647.5,704.09 651.5,673.91 654.5,668.93 657.5,672.28 661.5,672.70 664.5,671.85 667.5,669.53 671.5,658.29 674.5,663.69 677.5,675.47 681.5,649.85 684.5,646.99 687.5,657.96 691.5,656.88 694.5,650.31 697.5,657.45 701.5,645.09 704.5,626.53 707.5,610.86 711.5,610.08 714.5,613.58 717.5,610.79 721.5,607.88 724.5,597.79 728.5,584.86 731.5,580.38 734.5,577.44 738.5,575.70 741.5,570.25 744.5,569.97 748.5,575.78 751.5,598.32 754.5,593.97 758.5,592.66 761.5,591.98 764.5,584.78 768.5,600.18 771.5,600.88 774.5,599.97 778.5,623.16 781.5,654.96 784.5,667.89 788.5,655.22 791.5,634.40 794.5,647.09 798.5,641.56 801.5,624.74 805.5,618.42 808.5,605.78 811.5,606.98 815.5,611.13 818.5,594.69 821.5,589.23 825.5,612.29 828.5,623.69 831.5,625.06 835.5,622.08 838.5,638.87 841.5,659.64 845.5,642.89 848.5,651.50 851.5,621.97 855.5,626.09 858.5,625.86 861.5,654.86 865.5,643.72 868.5,650.25 871.5,649.47 875.5,659.49 878.5,658.95 882.5,657.51 885.5,663.39 888.5,662.41 892.5,653.13 895.5,665.66 898.5,664.27 902.5,667.17 905.5,664.83 908.5,664.41 912.5,663.54 915.5,659.44 918.5,649.20 922.5,629.64 925.5,634.97 928.5,643.87 932.5,651.91 935.5,654.42 938.5,645.80 942.5,649.64 945.5,660.36 948.5,658.99 952.5,663.31 955.5,688.81 959.5,691.72 962.5,692.29 965.5,713.03 969.5,692.53 972.5,694.25 975.5,679.49 979.5,671.86 982.5,678.41 985.5,657.46 989.5,646.72 992.5,644.19 995.5,647.49 999.5,644.90 1002.5,630.82 1005.5,657.94 1009.5,650.18 1012.5,665.31 1015.5,700.20 1019.5,703.92 1022.5,672.86 1025.5,666.78 1029.5,674.01 1032.5,682.30 1036.5,687.41 1039.5,690.65 1042.5,685.00 1046.5,678.43 1049.5,682.01 1052.5,685.94 1056.5,689.88 1059.5,684.00 1062.5,676.57 1066.5,675.23 1069.5,656.45 1072.5,661.66 1076.5,672.29 1079.5,679.11 1082.5,686.73 1086.5,680.31 1089.5,678.19 1092.5,674.82 1096.5,699.05 1099.5,716.02 1102.5,701.56 1106.5,707.21 1109.5,696.02 1113.5,698.11 1116.5,679.48 1119.5,680.99 1123.5,691.26 1126.5,691.44 1129.5,702.93 1133.5,709.53 1136.5,703.47 1139.5,707.84 1143.5,711.34 1146.5,699.95 1149.5,706.38 1153.5,717.25 1156.5,720.61 1159.5,718.84 1163.5,715.15 1166.5,695.56 1169.5,694.40 1173.5,686.85 1176.5,688.04 1179.5,685.32 1183.5,689.30 1186.5,688.29 1190.5,711.34 1190.50,715.30" fill="url(#osg)" clip-path="url(#osclip)"/>
<polyline points="11.5,624.78 14.5,625.50 18.5,626.85 21.5,629.54 24.5,633.84 28.5,639.67 31.5,643.82 34.5,649.16 38.5,654.40 41.5,658.10 45.5,660.95 48.5,663.32 51.5,666.00 55.5,668.17 58.5,671.06 61.5,674.81 65.5,678.66 68.5,681.69 71.5,682.39 75.5,680.69 78.5,678.62 81.5,675.39 85.5,672.10 88.5,669.54 91.5,670.03 95.5,671.00 98.5,671.51 101.5,671.65 105.5,672.21 108.5,672.56 111.5,673.80 115.5,674.03 118.5,672.56 122.5,673.28 125.5,673.73 128.5,675.64 132.5,677.87 135.5,679.99 138.5,679.27 142.5,678.75 145.5,676.83 148.5,675.58 152.5,674.40 155.5,673.70 158.5,672.53 162.5,672.89 165.5,674.81 168.5,674.57 172.5,675.02 175.5,675.74 178.5,677.24 182.5,679.10 185.5,681.98 188.5,683.75 192.5,686.79 195.5,689.83 199.5,692.88 202.5,695.36 205.5,697.12 209.5,698.55 212.5,698.79 215.5,700.64 219.5,702.39 222.5,703.00 225.5,702.55 229.5,701.34 232.5,699.94 235.5,698.58 239.5,696.46 242.5,694.73 245.5,691.78 249.5,688.46 252.5,687.74 255.5,686.84 259.5,688.30 262.5,689.46 265.5,691.48 269.5,693.43 272.5,692.14 276.5,693.65 279.5,694.45 282.5,695.24 286.5,696.46 289.5,697.37 292.5,699.01 296.5,701.90 299.5,703.19 302.5,703.77 306.5,703.58 309.5,703.46 312.5,702.56 316.5,701.34 319.5,703.31 322.5,702.94 326.5,702.71 329.5,701.66 332.5,701.00 336.5,700.17 339.5,699.71 342.5,698.02 346.5,694.82 349.5,692.48 353.5,690.51 356.5,688.43 359.5,687.72 363.5,687.73 366.5,687.67 369.5,687.90 373.5,686.96 376.5,688.35 379.5,688.86 383.5,689.26 386.5,689.88 389.5,692.56 393.5,696.26 396.5,700.14 399.5,700.77 403.5,702.34 406.5,702.42 409.5,701.24 413.5,700.24 416.5,699.06 419.5,699.39 423.5,698.85 426.5,698.52 430.5,698.06 433.5,697.25 436.5,694.98 440.5,692.60 443.5,687.49 446.5,684.79 450.5,681.35 453.5,678.31 456.5,675.57 460.5,672.87 463.5,670.43 466.5,667.98 470.5,665.44 473.5,662.25 476.5,659.02 480.5,656.35 483.5,654.00 486.5,651.26 490.5,650.93 493.5,651.14 496.5,646.97 500.5,642.34 503.5,637.34 507.5,633.01 510.5,629.11 513.5,624.22 517.5,620.30 520.5,617.86 523.5,615.63 527.5,614.06 530.5,611.74 533.5,609.48 537.5,607.14 540.5,604.48 543.5,605.21 547.5,608.48 550.5,612.49 553.5,615.26 557.5,617.66 560.5,620.02 563.5,621.18 567.5,622.48 570.5,625.02 574.5,626.68 577.5,628.40 580.5,629.64 584.5,631.13 587.5,632.67 590.5,637.35 594.5,639.34 597.5,641.02 600.5,643.00 604.5,643.33 607.5,643.44 610.5,644.30 614.5,645.81 617.5,646.68 620.5,648.03 624.5,649.26 627.5,651.46 630.5,653.81 634.5,655.75 637.5,655.32 640.5,656.86 644.5,659.75 647.5,663.02 651.5,665.83 654.5,669.24 657.5,672.32 661.5,673.94 664.5,674.81 667.5,675.02 671.5,674.64 674.5,674.42 677.5,674.58 681.5,673.43 684.5,672.01 687.5,670.19 691.5,667.31 694.5,663.47 697.5,662.30 701.5,660.59 704.5,657.33 707.5,652.91 711.5,648.50 714.5,644.50 717.5,641.11 721.5,637.12 724.5,631.57 728.5,626.93 731.5,622.17 734.5,616.42 738.5,610.62 741.5,604.91 744.5,598.66 748.5,593.71 751.5,591.69 754.5,590.48 758.5,589.24 761.5,587.70 764.5,585.84 768.5,585.29 771.5,585.51 774.5,586.59 778.5,589.65 781.5,595.18 784.5,601.77 788.5,607.84 791.5,612.44 794.5,617.53 798.5,620.62 801.5,622.82 805.5,624.66 808.5,625.64 811.5,627.23 815.5,628.01 818.5,627.57 821.5,626.80 825.5,626.03 828.5,623.79 831.5,620.73 835.5,618.37 838.5,618.69 841.5,619.58 845.5,619.68 848.5,621.59 851.5,621.84 855.5,623.29 858.5,624.64 861.5,627.77 865.5,631.27 868.5,635.63 871.5,638.28 875.5,640.84 878.5,643.26 882.5,645.79 885.5,647.54 888.5,647.74 892.5,648.47 895.5,649.48 898.5,652.50 902.5,655.44 905.5,658.22 908.5,658.90 912.5,660.32 915.5,660.98 918.5,660.96 922.5,658.83 925.5,657.11 928.5,656.14 932.5,655.32 935.5,654.75 938.5,654.22 942.5,653.08 945.5,652.80 948.5,652.22 952.5,652.11 955.5,653.85 959.5,655.86 962.5,658.21 965.5,662.77 969.5,667.26 972.5,671.49 975.5,674.04 979.5,675.46 982.5,677.18 985.5,678.01 989.5,677.80 992.5,676.65 995.5,675.83 999.5,674.51 1002.5,670.37 1005.5,667.96 1009.5,664.95 1012.5,661.54 1015.5,662.09 1019.5,662.78 1022.5,662.30 1025.5,661.94 1029.5,661.63 1032.5,663.40 1036.5,666.31 1039.5,669.63 1042.5,672.31 1046.5,674.70 1049.5,678.36 1052.5,680.36 1056.5,683.19 1059.5,684.53 1062.5,682.84 1066.5,680.79 1069.5,679.62 1072.5,679.25 1076.5,679.13 1079.5,678.90 1082.5,678.85 1086.5,678.12 1089.5,677.63 1092.5,677.37 1096.5,678.59 1099.5,680.74 1102.5,681.57 1106.5,683.23 1109.5,684.62 1113.5,686.25 1116.5,687.90 1119.5,689.28 1123.5,690.63 1126.5,691.51 1129.5,692.67 1133.5,694.76 1136.5,696.56 1139.5,698.92 1143.5,699.80 1146.5,698.65 1149.5,698.99 1153.5,699.71 1156.5,701.47 1159.5,702.95 1163.5,705.50 1166.5,706.54 1169.5,706.76 1173.5,706.44 1176.5,705.37 1179.5,703.64 1183.5,702.63 1186.5,701.23 1190.5,701.23" fill="none" stroke="#fdd835" stroke-width="1.2"/>
<polyline points="11.5,636.70 14.5,629.58 18.5,627.23 21.5,640.77 24.5,670.59 28.5,687.72 31.5,680.68 34.5,691.31 38.5,695.55 41.5,679.68 45.5,672.39 48.5,670.79 51.5,686.20 55.5,685.16 58.5,677.21 61.5,682.01 65.5,681.20 68.5,683.16 71.5,680.42 75.5,663.87 78.5,651.66 81.5,646.12 85.5,649.59 88.5,643.75 91.5,679.24 95.5,684.46 98.5,693.32 101.5,687.10 105.5,685.13 108.5,686.84 111.5,698.62 115.5,686.32 118.5,659.90 122.5,673.83 125.5,658.06 128.5,672.84 132.5,680.86 135.5,673.30 138.5,669.28 142.5,677.09 145.5,666.42 148.5,669.63 152.5,668.62 155.5,677.02 158.5,682.21 162.5,691.37 165.5,686.88 168.5,670.47 172.5,664.34 175.5,682.92 178.5,701.84 182.5,699.38 185.5,709.52 188.5,701.89 192.5,708.90 195.5,712.24 199.5,711.30 202.5,711.76 205.5,706.90 209.5,711.36 212.5,690.19 215.5,696.42 219.5,688.90 222.5,691.39 225.5,695.51 229.5,682.49 232.5,689.90 235.5,682.81 239.5,679.26 242.5,688.10 245.5,669.95 249.5,665.22 252.5,696.82 255.5,698.74 259.5,710.67 262.5,712.69 265.5,717.10 269.5,718.70 272.5,677.49 276.5,703.71 279.5,701.10 282.5,693.84 286.5,696.32 289.5,700.87 292.5,692.88 296.5,705.63 299.5,714.91 302.5,706.88 306.5,707.99 309.5,711.02 312.5,704.49 316.5,701.66 319.5,705.09 322.5,698.47 326.5,697.91 329.5,679.20 332.5,687.05 336.5,689.22 339.5,686.44 342.5,681.94 346.5,670.14 349.5,674.11 353.5,680.38 356.5,681.96 359.5,694.54 363.5,701.73 366.5,704.26 369.5,701.76 373.5,684.69 376.5,698.69 379.5,694.13 383.5,694.86 386.5,695.18 389.5,719.46 393.5,721.91 396.5,728.38 399.5,689.31 403.5,703.81 406.5,695.75 409.5,685.23 413.5,690.23 416.5,685.20 419.5,689.31 423.5,691.11 426.5,689.51 430.5,688.50 433.5,683.77 436.5,687.66 440.5,688.59 443.5,656.88 446.5,651.52 450.5,655.63 453.5,653.14 456.5,646.87 460.5,652.53 463.5,650.94 466.5,655.01 470.5,655.65 473.5,644.87 476.5,643.19 480.5,646.41 483.5,654.82 486.5,650.13 490.5,652.27 493.5,654.50 496.5,597.21 500.5,588.34 503.5,576.85 507.5,591.89 510.5,596.42 513.5,586.47 517.5,600.81 520.5,610.72 523.5,611.97 527.5,624.46 530.5,622.30 533.5,618.48 537.5,619.59 540.5,617.24 543.5,607.33 547.5,634.20 550.5,632.93 553.5,630.75 557.5,629.94 560.5,619.55 563.5,617.05 567.5,628.92 570.5,647.46 574.5,647.72 577.5,646.46 580.5,635.87 584.5,640.39 587.5,638.80 590.5,672.90 594.5,661.96 597.5,656.52 600.5,658.40 604.5,634.58 607.5,621.18 610.5,629.09 614.5,650.06 617.5,659.60 620.5,666.58 624.5,663.71 627.5,666.70 630.5,673.27 634.5,665.99 637.5,666.81 640.5,683.49 644.5,697.09 647.5,704.09 651.5,673.91 654.5,668.93 657.5,672.28 661.5,672.70 664.5,671.85 667.5,669.53 671.5,658.29 674.5,663.69 677.5,675.47 681.5,649.85 684.5,646.99 687.5,657.96 691.5,656.88 694.5,650.31 697.5,657.45 701.5,645.09 704.5,626.53 707.5,610.86 711.5,610.08 714.5,613.58 717.5,610.79 721.5,607.88 724.5,597.79 728.5,584.86 731.5,580.38 734.5,577.44 738.5,575.70 741.5,570.25 744.5,569.97 748.5,575.78 751.5,598.32 754.5,593.97 758.5,592.66 761.5,591.98 764.5,584.78 768.5,600.18 771.5,600.88 774.5,599.97 778.5,623.16 781.5,654.96 784.5,667.89 788.5,655.22 791.5,634.40 794.5,647.09 798.5,641.56 801.5,624.74 805.5,618.42 808.5,605.78 811.5,606.98 815.5,611.13 818.5,594.69 821.5,589.23 825.5,612.29 828.5,623.69 831.5,625.06 835.5,622.08 838.5,638.87 841.5,659.64 845.5,642.89 848.5,651.50 851.5,621.97 855.5,626.09 858.5,625.86 861.5,654.86 865.5,643.72 868.5,650.25 871.5,649.47 875.5,659.49 878.5,658.95 882.5,657.51 885.5,663.39 888.5,662.41 892.5,653.13 895.5,665.66 898.5,664.27 902.5,667.17 905.5,664.83 908.5,664.41 912.5,663.54 915.5,659.44 918.5,649.20 922.5,629.64 925.5,634.97 928.5,643.87 932.5,651.91 935.5,654.42 938.5,645.80 942.5,649.64 945.5,660.36 948.5,658.99 952.5,663.31 955.5,688.81 959.5,691.72 962.5,692.29 965.5,713.03 969.5,692.53 972.5,694.25 975.5,679.49 979.5,671.86 982.5,678.41 985.5,657.46 989.5,646.72 992.5,644.19 995.5,647.49 999.5,644.90 1002.5,630.82 1005.5,657.94 1009.5,650.18 1012.5,665.31 1015.5,700.20 1019.5,703.92 1022.5,672.86 1025.5,666.78 1029.5,674.01 1032.5,682.30 1036.5,687.41 1039.5,690.65 1042.5,685.00 1046.5,678.43 1049.5,682.01 1052.5,685.94 1056.5,689.88 1059.5,684.00 1062.5,676.57 1066.5,675.23 1069.5,656.45 1072.5,661.66 1076.5,672.29 1079.5,679.11 1082.5,686.73 1086.5,680.31 1089.5,678.19 1092.5,674.82 1096.5,699.05 1099.5,716.02 1102.5,701.56 1106.5,707.21 1109.5,696.02 1113.5,698.11 1116.5,679.48 1119.5,680.99 1123.5,691.26 1126.5,691.44 1129.5,702.93 1133.5,709.53 1136.5,703.47 1139.5,707.84 1143.5,711.34 1146.5,699.95 1149.5,706.38 1153.5,717.25 1156.5,720.61 1159.5,718.84 1163.5,715.15 1166.5,695.56 1169.5,694.40 1173.5,686.85 1176.5,688.04 1179.5,685.32 1183.5,689.30 1186.5,688.29 1190.5,711.34" fill="none" stroke="#7e57c2" stroke-width="3" stroke-linejoin="round"/>
</g>
<path d="M10 27H1343V766H10Z" fill="none" stroke="#f1f1f2" stroke-width="2"/>
<path d="M11 559.5H1342" stroke="#e0e3eb" stroke-width="1" fill="none"/>
<path d="M11 738.5H1342M1277.5 28V765" stroke="#e0e0e2" stroke-width="1" fill="none"/>
<text x="18.3" y="45.9" font-size="13" fill="#131722" textLength="192" lengthAdjust="spacingAndGlyphs" >Ethereum / TetherUS · 1D · Binance</text>
<text x="217.8" y="45.9" font-size="13" fill="#131722" textLength="8" lengthAdjust="spacingAndGlyphs" >O</text>
<text x="226" y="45.9" font-size="13" fill="#ef5350" textLength="46.1" lengthAdjust="spacingAndGlyphs" >2,991.25</text>
<text x="279.8" y="45.9" font-size="13" fill="#131722" textLength="8" lengthAdjust="spacingAndGlyphs" >H</text>
<text x="288.9" y="45.9" font-size="13" fill="#ef5350" textLength="44.7" lengthAdjust="spacingAndGlyphs" >2,999.47</text>
<text x="341.9" y="45.9" font-size="13" fill="#131722" textLength="6.5" lengthAdjust="spacingAndGlyphs" >L</text>
<text x="348.4" y="45.9" font-size="13" fill="#ef5350" textLength="45.3" lengthAdjust="spacingAndGlyphs" >2,716.04</text>
<text x="401.9" y="45.9" font-size="13" fill="#131722" textLength="7.5" lengthAdjust="spacingAndGlyphs" >C</text>
<text x="409.2" y="45.9" font-size="13" fill="#ef5350" textLength="45.2" lengthAdjust="spacingAndGlyphs" >2,724.60</text>
<text x="462.2" y="45.9" font-size="13" fill="#ef5350" textLength="90.5" lengthAdjust="spacingAndGlyphs" >−266.66 (−8.91%)</text>
<text x="18.3" y="62.7" font-size="13" fill="#131722" textLength="81.7" lengthAdjust="spacingAndGlyphs" >EMA (20, close)</text>
<text x="107.7" y="62.7" font-size="13" fill="#2962ff" textLength="46.1" lengthAdjust="spacingAndGlyphs" >3,052.95</text>
<text x="18.3" y="79.7" font-size="13" fill="#131722" textLength="81" lengthAdjust="spacingAndGlyphs" >SMA (50, close)</text>
<text x="107.2" y="79.7" font-size="13" fill="#f23645" textLength="46.3" lengthAdjust="spacingAndGlyphs" >3,480.99</text>
<text x="18.5" y="578.2" font-size="13" fill="#131722" textLength="75" lengthAdjust="spacingAndGlyphs" >RSI (14, close)</text>
<text x="102" y="578.2" font-size="13" fill="#7e57c2" textLength="28.9" lengthAdjust="spacingAndGlyphs" >31.09</text>
<text x="138.8" y="578.2" font-size="13" fill="#fdd835" textLength="28.9" lengthAdjust="spacingAndGlyphs" >35.24</text>
<text x="1286" y="552.9" font-size="12" fill="#131722" textLength="46.3" lengthAdjust="spacingAndGlyphs" >1,250.00</text>
<text x="1286" y="519.9" font-size="12" fill="#131722" textLength="46.3" lengthAdjust="spacingAndGlyphs" >1,500.00</text>
<text x="1286" y="486.9" font-size="12" fill="#131722" textLength="46.3" lengthAdjust="spacingAndGlyphs" >1,750.00</text>
<text x="1286" y="452.9" font-size="12" fill="#131722" textLength="46.3" lengthAdjust="spacingAndGlyphs" >2,000.00</text>
<text x="1286" y="419.9" font-size="12" fill="#131722" textLength="46.3" lengthAdjust="spacingAndGlyphs" >2,250.00</text>
<text x="1286" y="385.9" font-size="12" fill="#131722" textLength="46.3" lengthAdjust="spacingAndGlyphs" >2,500.00</text>
<text x="1286" y="352.0" font-size="12" fill="#131722" textLength="46.3" lengthAdjust="spacingAndGlyphs" >2,750.00</text>
<text x="1286" y="318.9" font-size="12" fill="#131722" textLength="46.3" lengthAdjust="spacingAndGlyphs" >3,000.00</text>
<text x="1286" y="284.5" font-size="12" fill="#131722" textLength="46.3" lengthAdjust="spacingAndGlyphs" >3,250.00</text>
<text x="1286" y="251.9" font-size="12" fill="#131722" textLength="46.3" lengthAdjust="spacingAndGlyphs" >3,500.00</text>
<text x="1286" y="218.9" font-size="12" fill="#131722" textLength="46.3" lengthAdjust="spacingAndGlyphs" >3,750.00</text>
<text x="1286" y="185.9" font-size="12" fill="#131722" textLength="46.3" lengthAdjust="spacingAndGlyphs" >4,000.00</text>
<text x="1286" y="151.9" font-size="12" fill="#131722" textLength="46.3" lengthAdjust="spacingAndGlyphs" >4,250.00</text>
<text x="1286" y="118.9" font-size="12" fill="#131722" textLength="46.3" lengthAdjust="spacingAndGlyphs" >4,500.00</text>
<text x="1286" y="84.9" font-size="12" fill="#131722" textLength="46.3" lengthAdjust="spacingAndGlyphs" >4,750.00</text>
<text x="1286" y="591.9" font-size="12" fill="#131722" >80.00</text>
<text x="1286" y="642.9" font-size="12" fill="#131722" >60.00</text>
<text x="1286" y="692.9" font-size="12" fill="#131722" >40.00</text>
<rect x="1280.7" y="31.3" width="58.2" height="25.3" rx="4" fill="#fff" stroke="#e0e3eb"/>
<text x="1290.1" y="48.8" font-size="12" fill="#131722" textLength="27.7" lengthAdjust="spacingAndGlyphs" >USDT</text>
<rect x="1227.1" y="243.1" width="110.80000000000018" height="16.799999999999983" rx="2" fill="#f23645"/>
<text x="1232" y="254.8" font-size="12" fill="#fff" textLength="41" lengthAdjust="spacingAndGlyphs" stroke="#fff" stroke-width="0.3">SMA:MA</text>
<text x="1286" y="254.8" font-size="12" fill="#fff" textLength="46.4" lengthAdjust="spacingAndGlyphs" stroke="#fff" stroke-width="0.3">3,480.99</text>
<rect x="1277.5" y="261.1" width="60.40000000000009" height="16.5" rx="2" fill="#0000ff"/>
<text x="1286" y="272.9" font-size="12" fill="#fff" textLength="46.4" lengthAdjust="spacingAndGlyphs" stroke="#fff" stroke-width="0.3">3,350.00</text>
<rect x="1246.2" y="300.1" width="91.70000000000005" height="16.69999999999999" rx="2" fill="#2962ff"/>
<text x="1251" y="311.8" font-size="12" fill="#fff" textLength="22" lengthAdjust="spacingAndGlyphs" stroke="#fff" stroke-width="0.3">EMA</text>
<text x="1286" y="311.8" font-size="12" fill="#fff" textLength="46.4" lengthAdjust="spacingAndGlyphs" stroke="#fff" stroke-width="0.3">3,052.95</text>
<rect x="1219.2" y="344.2" width="118.5" height="16.5" rx="2" fill="#ef5350"/>
<rect x="1277.5" y="344.2" width="60.200000000000045" height="44.5" rx="2" fill="#ef5350"/>
<text x="1224" y="355.7" font-size="12" fill="#fff" textLength="48.4" lengthAdjust="spacingAndGlyphs" stroke="#fff" stroke-width="0.3">ETHUSDT</text>
<text x="1286" y="355.7" font-size="12" fill="#fff" textLength="46.4" lengthAdjust="spacingAndGlyphs" stroke="#fff" stroke-width="0.3">2,724.60</text>
<text x="1286" y="369.6" font-size="12" fill="#fff" textLength="43" lengthAdjust="spacingAndGlyphs" stroke="#fff" stroke-width="0.3">−30.26%</text>
<text x="1286" y="383.5" font-size="12" fill="#fff" textLength="46.3" lengthAdjust="spacingAndGlyphs" fill-opacity="0.8" stroke="#fff" stroke-opacity="0.8" stroke-width="0.3">07:44:44</text>
<rect x="1198.3" y="687" width="122.40000000000009" height="16.899999999999977" rx="2" fill="#fdd835"/>
<text x="1202.6" y="699" font-size="12" fill="#131722" textLength="70.6" lengthAdjust="spacingAndGlyphs" stroke="#131722" stroke-width="0.2">RSI-based MA</text>
<text x="1286.2" y="699" font-size="12" fill="#131722" textLength="29.2" lengthAdjust="spacingAndGlyphs" stroke="#131722" stroke-width="0.2">35.24</text>
<rect x="1252" y="704.3" width="68.70000000000005" height="16.40000000000009" rx="2" fill="#7e57c2"/>
<text x="1256.9" y="716.2" font-size="12" fill="#fff" textLength="15.9" lengthAdjust="spacingAndGlyphs" stroke="#fff" stroke-width="0.3">RSI</text>
<text x="1286.2" y="716.2" font-size="12" fill="#fff" textLength="29.2" lengthAdjust="spacingAndGlyphs" stroke="#fff" stroke-width="0.3">31.09</text>
<path d="M1277.5 240V730" stroke="#e0e0e2" stroke-opacity="0.6"/>
<text x="71.5" y="755.8" font-size="12" font-weight="bold" fill="#131722" text-anchor="middle">2025</text>
<text x="175.5" y="755.8" font-size="12" fill="#131722" text-anchor="middle">Feb</text>
<text x="269.5" y="755.8" font-size="12" fill="#131722" text-anchor="middle">Mar</text>
<text x="373.5" y="755.8" font-size="12" fill="#131722" text-anchor="middle">Apr</text>
<text x="473.5" y="755.8" font-size="12" fill="#131722" text-anchor="middle">May</text>
<text x="577.5" y="755.8" font-size="12" fill="#131722" text-anchor="middle">Jun</text>
<text x="677.5" y="755.8" font-size="12" fill="#131722" text-anchor="middle">Jul</text>
<text x="781.5" y="755.8" font-size="12" fill="#131722" text-anchor="middle">Aug</text>
<text x="885.5" y="755.8" font-size="12" fill="#131722" text-anchor="middle">Sep</text>
<text x="985.5" y="755.8" font-size="12" fill="#131722" text-anchor="middle">Oct</text>
<text x="1089.5" y="755.8" font-size="12" fill="#131722" text-anchor="middle">Nov</text>
<text x="1190.5" y="755.8" font-size="12" fill="#131722" text-anchor="middle">Dec</text>
<path d="M1193.4 536.9A9.75 9.75 0 1 0 1200.1 543.5" fill="none" stroke="#9c27b0" stroke-width="1.5" stroke-linecap="round"/>
<polygon points="1193.0,541.1 1190.2,545.7 1194.3,545.7 1194.5,546.7 1187.6,551.9 1190.4,547.1 1186.2,547.1 1186.4,546.2" fill="#9c27b0" stroke="#9c27b0" stroke-width="0.35" stroke-linejoin="round"/>
<circle cx="1197.4" cy="539.4" r="2.55" fill="#f23645"/>
<g fill="#0c0c0c"><path d="M12 787.9H24.1V802.9H18.1V795.4H12Z"/><circle cx="29.2" cy="791.4" r="2.7"/><path d="M33.9 787.9H41.5L36.6 802.9H29.3Z"/></g>
<text x="49.2" y="802.9" font-size="21" font-weight="bold" fill="#0c0c0c" textLength="120.4" lengthAdjust="spacingAndGlyphs">TradingView</text>
</svg></body></html>
